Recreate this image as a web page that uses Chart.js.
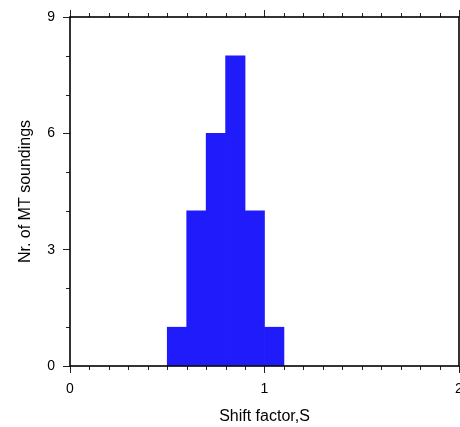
<!DOCTYPE html>
<html lang="en">
<head>
<meta charset="UTF-8">
<title>Shift factor histogram</title>
<style>
  html, body { margin: 0; padding: 0; background: #fff; overflow: hidden; }
  #wrap { width: 460px; height: 427px; }
</style>
</head>
<body>
<div id="wrap"><canvas id="histChart"></canvas></div>
<script src="https://cdn.jsdelivr.net/npm/chart.js"></script>
<script>
// histogram bins (left edge) and counts
const binLeft = [0.5, 0.6, 0.7, 0.8, 0.9, 1.0];
const binCounts = [1, 4, 6, 8, 4, 1];
const binWidth = 0.1;

const xTickValues = [0, 1, 2];
const yTickValues = [0, 3, 6, 9];
const xLabel = 'Shift factor,S';
const yLabel = 'Nr. of MT soundings';

const FONT = 'Liberation Sans, Arial, Helvetica, sans-serif';
const BAR_COLOR = '#1f1bfb';

// short minor ticks + black frame around the plot
const frameAndMinorTicks = {
    id: 'frameAndMinorTicks',
    afterDatasetsDraw(chart) {
        const { ctx, chartArea: a, scales } = chart;
        ctx.save();
        ctx.strokeStyle = '#222';
        ctx.lineWidth = 1;
        ctx.beginPath();
        for (let i = 1; i < 20; i++) {
            if (i % 10 === 0) continue;
            const px = Math.round(scales.x.getPixelForValue(i / 10)) + 0.5;
            ctx.moveTo(px, a.bottom);
            ctx.lineTo(px, a.bottom + 4);
            ctx.moveTo(px, a.top);
            ctx.lineTo(px, a.top - 4);
        }
        for (let j = 1; j < 9; j++) {
            if (j % 3 === 0) continue;
            const py = Math.round(scales.y.getPixelForValue(j)) + 0.5;
            ctx.moveTo(a.left - 4, py);
            ctx.lineTo(a.left, py);
        }
        ctx.stroke();
        ctx.strokeStyle = '#000';
        ctx.lineWidth = 1.6;
        ctx.strokeRect(a.left, a.top, a.width, a.height);
        ctx.restore();
    }
};

const majorGrid = {
    offset: false,
    drawOnChartArea: false,
    drawTicks: true,
    tickLength: 7,
    tickColor: '#222',
    tickWidth: 1
};

new Chart(document.getElementById('histChart'), {
    type: 'bar',
    data: {
        datasets: [{
            data: binLeft.map((l, i) => ({ x: l + binWidth / 2, y: binCounts[i] })),
            backgroundColor: BAR_COLOR,
            borderWidth: 0,
            barPercentage: 1,
            categoryPercentage: 1
        }]
    },
    options: {
        responsive: true,
        maintainAspectRatio: false,
        animation: false,
        devicePixelRatio: 1,
        layout: { padding: { left: 0, right: 1, top: 0, bottom: 0 } },
        plugins: {
            legend: { display: false },
            tooltip: { enabled: false }
        },
        scales: {
            x: {
                type: 'linear',
                position: 'bottom',
                min: 0,
                max: 2,
                offset: false,
                grid: majorGrid,
                border: { display: false },
                afterBuildTicks: s => { s.ticks = xTickValues.map(v => ({ value: v })); },
                afterFit: s => { s.height = 61; s.paddingLeft = 0; s.paddingRight = 0; },
                ticks: {
                    color: '#000',
                    font: { family: FONT, size: 14 },
                    padding: 8,
                    maxRotation: 0,
                    autoSkip: false
                },
                title: {
                    display: true,
                    text: xLabel,
                    color: '#000',
                    font: { family: FONT, size: 16 },
                    padding: { top: 0, bottom: 1 }
                }
            },
            xTop: {
                type: 'linear',
                position: 'top',
                min: 0,
                max: 2,
                offset: false,
                grid: majorGrid,
                border: { display: false },
                afterBuildTicks: s => { s.ticks = xTickValues.map(v => ({ value: v })); },
                afterFit: s => { s.height = 17; s.paddingLeft = 0; s.paddingRight = 0; },
                ticks: { display: false }
            },
            y: {
                type: 'linear',
                min: 0,
                max: 9,
                grid: majorGrid,
                border: { display: false },
                afterBuildTicks: s => { s.ticks = yTickValues.map(v => ({ value: v })); },
                afterFit: s => { s.width = 70; },
                ticks: {
                    color: '#000',
                    font: { family: FONT, size: 14 },
                    padding: 8
                },
                title: {
                    display: true,
                    text: yLabel,
                    color: '#000',
                    font: { family: FONT, size: 16 },
                    padding: { top: 16, bottom: 0 }
                }
            }
        }
    },
    plugins: [frameAndMinorTicks]
});
</script>
</body>
</html>
